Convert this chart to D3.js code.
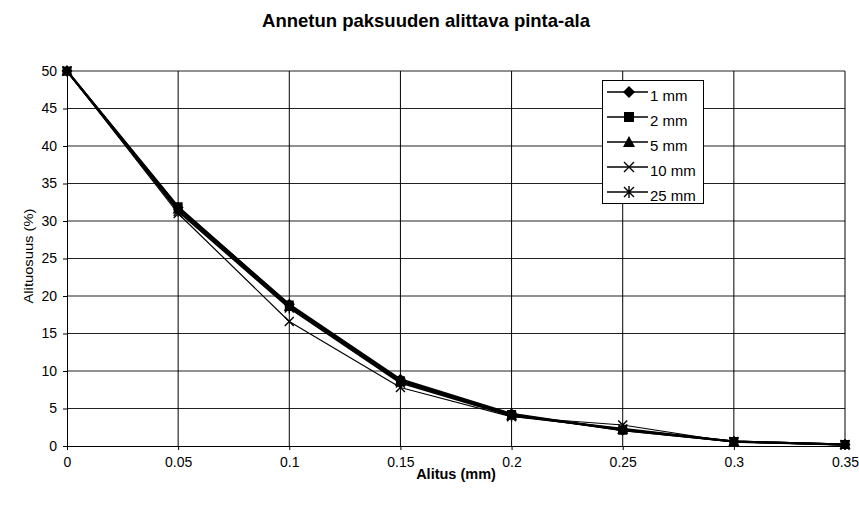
<!DOCTYPE html>
<html>
<head>
<meta charset="utf-8">
<script src="https://cdn.jsdelivr.net/npm/d3@7"></script>
<style>
  body { margin: 0; background: #fff; }
  svg { display: block; font-family: "Liberation Sans", Arial, sans-serif; }
</style>
</head>
<body>
<svg id="chart" width="859" height="508"></svg>
<script>
// Threshold thickness (mm) and share of area below it (%)
const alitus = [0, 0.05, 0.1, 0.15, 0.2, 0.25, 0.3, 0.35];
const mm1  = [50, 31.8, 18.9, 8.9, 4.3, 2.1, 0.6, 0.2];
const mm2  = [50, 31.9, 18.8, 8.7, 4.2, 2.1, 0.6, 0.2];
const mm5  = [50, 31.6, 18.6, 8.6, 4.1, 2.2, 0.6, 0.2];
const mm10 = [50, 31.0, 16.6, 7.8, 3.9, 2.8, 0.5, 0.1];
const mm25 = [50, 31.3, 18.4, 8.4, 4.0, 2.3, 0.6, 0.2];
const seriesNames = ["1 mm", "2 mm", "5 mm", "10 mm", "25 mm"];
const xTicks = [0, 0.05, 0.1, 0.15, 0.2, 0.25, 0.3, 0.35];
const yTicks = [0, 5, 10, 15, 20, 25, 30, 35, 40, 45, 50];

const series = [
  { name: seriesNames[0], values: mm1,  marker: "diamond",  width: 2 },
  { name: seriesNames[1], values: mm2,  marker: "square",   width: 2 },
  { name: seriesNames[2], values: mm5,  marker: "triangle", width: 2 },
  { name: seriesNames[3], values: mm10, marker: "cross",    width: 1.2 },
  { name: seriesNames[4], values: mm25, marker: "star",     width: 1.8 }
];

const svg = d3.select("#chart");
const plotLeft = 67, plotRight = 845, plotTop = 71, plotBottom = 446;

const x = d3.scaleLinear().domain([0, 0.35]).range([plotLeft, plotRight]);
const y = d3.scaleLinear().domain([0, 50]).range([plotBottom, plotTop]);

// gridlines
const grid = svg.append("g");
grid.selectAll("line.h").data(yTicks.slice(1)).join("line")
  .attr("x1", plotLeft).attr("x2", plotRight)
  .attr("y1", d => y(d)).attr("y2", d => y(d))
  .attr("stroke", "#222").attr("stroke-width", 1);
grid.selectAll("line.v").data(xTicks.slice(1)).join("line")
  .attr("x1", d => x(d)).attr("x2", d => x(d))
  .attr("y1", plotTop).attr("y2", plotBottom)
  .attr("stroke", "#000").attr("stroke-width", 1);

// axes
const xAxis = d3.axisBottom(x).tickValues(xTicks).tickSize(4).tickPadding(7)
  .tickFormat(d => String(+d.toFixed(2)));
const gx = svg.append("g").attr("transform", `translate(0,${plotBottom})`).call(xAxis);
const yAxis = d3.axisLeft(y).tickValues(yTicks).tickSize(4).tickPadding(6);
const gy = svg.append("g").attr("transform", `translate(${plotLeft},0)`).call(yAxis);
[gx, gy].forEach(g => {
  g.select(".domain").attr("stroke", "#000");
  g.selectAll(".tick line").attr("stroke", "#000");
  g.selectAll(".tick text").attr("font-size", 14).attr("fill", "#000")
    .attr("font-family", "Liberation Sans, Arial, sans-serif");
});
gx.select(".domain").attr("d", `M${plotLeft},0.5H${plotRight}`);
gy.select(".domain").attr("d", `M0.5,${plotBottom}V${plotTop}`);

// marker shapes
function drawMarker(g, type, cx, cy, s) {
  const h = s / 2;
  if (type === "diamond") {
    g.append("path").attr("d", `M${cx},${cy - h - 1}L${cx + h + 1},${cy}L${cx},${cy + h + 1}L${cx - h - 1},${cy}Z`).attr("fill", "#000");
  } else if (type === "square") {
    g.append("rect").attr("x", cx - h).attr("y", cy - h).attr("width", s).attr("height", s).attr("fill", "#000");
  } else if (type === "triangle") {
    g.append("path").attr("d", `M${cx},${cy - h - 1}L${cx + h + 1},${cy + h}L${cx - h - 1},${cy + h}Z`).attr("fill", "#000");
  } else if (type === "cross") {
    g.append("path").attr("d", `M${cx - h},${cy - h}L${cx + h},${cy + h}M${cx - h},${cy + h}L${cx + h},${cy - h}`)
      .attr("stroke", "#000").attr("stroke-width", 1.4).attr("fill", "none");
  } else if (type === "star") {
    g.append("path").attr("d", `M${cx - h},${cy - h}L${cx + h},${cy + h}M${cx - h},${cy + h}L${cx + h},${cy - h}M${cx},${cy - h - 1}L${cx},${cy + h + 1}`)
      .attr("stroke", "#000").attr("stroke-width", 1.4).attr("fill", "none");
  }
}

// series lines and markers
const line = d3.line().x((d, i) => x(alitus[i])).y(d => y(d));
const plot = svg.append("g");
series.forEach(s => {
  plot.append("path").datum(s.values).attr("d", line)
    .attr("fill", "none").attr("stroke", "#000").attr("stroke-width", s.width)
    .attr("stroke-linejoin", "round");
});
series.forEach(s => {
  const g = plot.append("g");
  s.values.forEach((v, i) => drawMarker(g, s.marker, x(alitus[i]), y(v), 9));
});

// legend
const lg = svg.append("g").attr("transform", "translate(602,80)");
lg.append("rect").attr("x", 0.5).attr("y", 0.5).attr("width", 101).attr("height", 123)
  .attr("fill", "#fff").attr("stroke", "#000");
series.forEach((s, i) => {
  const cy = 12 + i * 25;
  lg.append("line").attr("x1", 5).attr("x2", 46).attr("y1", cy).attr("y2", cy)
    .attr("stroke", "#000").attr("stroke-width", 1.5);
  drawMarker(lg, s.marker, 27, cy, 10);
  lg.append("text").attr("x", 48).attr("y", cy + 8.5).attr("font-size", 15).text(s.name);
});

// titles
svg.append("text").attr("x", 426).attr("y", 27).attr("text-anchor", "middle")
  .attr("font-size", 18.5).attr("font-weight", "bold").text("Annetun paksuuden alittava pinta-ala");
svg.append("text").attr("x", 456).attr("y", 479).attr("text-anchor", "middle")
  .attr("font-size", 14.5).attr("font-weight", "bold").text("Alitus (mm)");
svg.append("text").attr("transform", "translate(33,256) rotate(-90)")
  .attr("text-anchor", "middle").attr("font-size", 13)
  .attr("textLength", 95).attr("lengthAdjust", "spacingAndGlyphs").text("Alituosuus (%)");
</script>
</body>
</html>
